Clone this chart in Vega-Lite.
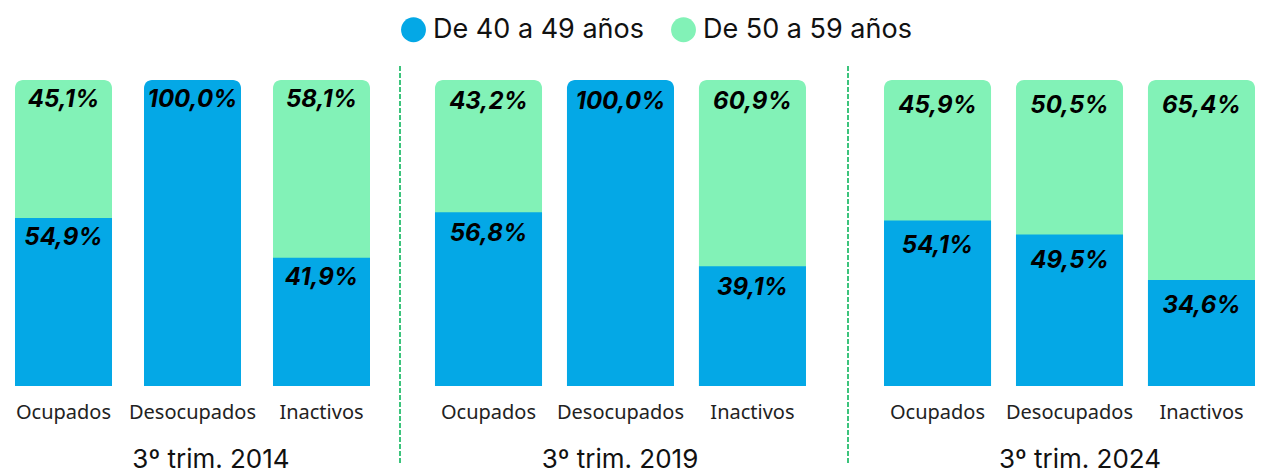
{
  "$schema": "https://vega.github.io/schema/vega-lite/v6.json",
  "background": "white",
  "padding": {"left": 0, "top": 16, "right": 0, "bottom": 0},
  "autosize": {"type": "pad"},
  "config": {
    "view": {"stroke": null},
    "locale": {"number": {"decimal": ",", "thousands": ".", "grouping": [3], "currency": ["", " €"]}},
    "axis": {"labelFont": "Noto Sans", "labelFontSize": 20, "labelColor": "#222222", "labelLimit": 300},
    "title": {"font": "Inter", "fontSize": 26, "fontWeight": "normal", "color": "#111111"}
  },
  "bounds": "flush",
  "spacing": 10,
  "data": {"values": [
    {"periodo": "2014", "cat": "Ocupados", "grupo": "De 40 a 49 años", "valor": 0.549},
    {"periodo": "2014", "cat": "Ocupados", "grupo": "De 50 a 59 años", "valor": 0.451},
    {"periodo": "2014", "cat": "Desocupados", "grupo": "De 40 a 49 años", "valor": 1.0},
    {"periodo": "2014", "cat": "Inactivos", "grupo": "De 40 a 49 años", "valor": 0.419},
    {"periodo": "2014", "cat": "Inactivos", "grupo": "De 50 a 59 años", "valor": 0.581},
    {"periodo": "2019", "cat": "Ocupados", "grupo": "De 40 a 49 años", "valor": 0.568},
    {"periodo": "2019", "cat": "Ocupados", "grupo": "De 50 a 59 años", "valor": 0.432},
    {"periodo": "2019", "cat": "Desocupados", "grupo": "De 40 a 49 años", "valor": 1.0},
    {"periodo": "2019", "cat": "Inactivos", "grupo": "De 40 a 49 años", "valor": 0.391},
    {"periodo": "2019", "cat": "Inactivos", "grupo": "De 50 a 59 años", "valor": 0.609},
    {"periodo": "2024", "cat": "Ocupados", "grupo": "De 40 a 49 años", "valor": 0.541},
    {"periodo": "2024", "cat": "Ocupados", "grupo": "De 50 a 59 años", "valor": 0.459},
    {"periodo": "2024", "cat": "Desocupados", "grupo": "De 40 a 49 años", "valor": 0.495},
    {"periodo": "2024", "cat": "Desocupados", "grupo": "De 50 a 59 años", "valor": 0.505},
    {"periodo": "2024", "cat": "Inactivos", "grupo": "De 40 a 49 años", "valor": 0.346},
    {"periodo": "2024", "cat": "Inactivos", "grupo": "De 50 a 59 años", "valor": 0.654}
  ]},
  "hconcat": [
    {
      "width": 380, "height": 306,
      "title": {"text": "3º trim. 2014", "orient": "bottom", "anchor": "middle", "dx": 21, "offset": 25},
      "transform": [
        {"filter": "datum.periodo == '2014'"},
        {"stack": "valor", "groupby": ["cat"], "sort": [{"field": "grupo", "order": "ascending"}], "as": ["v0", "v1"]}
      ],
      "encoding": {
        "x": {"field": "cat", "type": "nominal", "sort": ["Ocupados", "Desocupados", "Inactivos"],
              "scale": {"paddingInner": 0.248, "paddingOuter": 0.0969, "align": 0.6},
              "axis": {"title": null, "labelAngle": 0, "ticks": false, "tickSize": 0, "domain": false, "labelPadding": 16}}
      },
      "layer": [
        {"transform": [{"filter": "datum.v1 > 0.999"}],
         "mark": {"type": "bar", "cornerRadiusTopLeft": 8, "cornerRadiusTopRight": 8},
         "encoding": {
           "y": {"field": "v1", "type": "quantitative", "stack": null, "scale": {"domain": [0, 1]}, "axis": null},
           "color": {"field": "grupo", "type": "nominal",
                     "scale": {"domain": ["De 40 a 49 años", "De 50 a 59 años"], "range": ["#04A8E6", "#82F2B7"]},
                     "legend": {"orient": "none", "legendX": 400, "legendY": -64, "direction": "horizontal", "title": null,
                                "symbolType": "circle", "symbolSize": 620, "symbolStrokeWidth": 0, "symbolOpacity": 1,
                                "labelFont": "Inter", "labelFontSize": 27, "labelLimit": 400, "labelColor": "#111111", "columnPadding": 26, "labelOffset": 6}}
         }},
        {"transform": [{"filter": "datum.v1 <= 0.999"}],
         "mark": {"type": "bar"},
         "encoding": {
           "y": {"field": "v0", "type": "quantitative", "stack": null, "scale": {"domain": [0, 1]}, "axis": null},
           "y2": {"field": "v1"},
           "color": {"field": "grupo", "type": "nominal"}
         }},
        {"mark": {"type": "text", "baseline": "middle", "dy": 20, "font": "Inter", "fontSize": 24, "fontWeight": "bold", "fontStyle": "italic", "color": "#000000"},
         "encoding": {
           "y": {"field": "v1", "type": "quantitative", "stack": null, "scale": {"domain": [0, 1]}, "axis": null},
           "text": {"field": "valor", "type": "quantitative", "format": ".1%"}
         }}
      ]
    },
    {
      "width": 20, "height": 306,
      "mark": {"type": "rule", "color": "#3CC47C", "strokeWidth": 2, "strokeDash": [4, 3]},
      "encoding": {
        "x": {"datum": 0, "type": "quantitative", "scale": {"domain": [-1, 1]}, "axis": null},
        "y": {"datum": -0.25, "type": "quantitative", "scale": {"domain": [0, 1]}, "axis": null},
        "y2": {"datum": 1.05}
      }
    },
    {
      "width": 408, "height": 306,
      "title": {"text": "3º trim. 2019", "orient": "bottom", "anchor": "middle", "dx": -4, "offset": 25},
      "transform": [
        {"filter": "datum.periodo == '2019'"},
        {"stack": "valor", "groupby": ["cat"], "sort": [{"field": "grupo", "order": "ascending"}], "as": ["v0", "v1"]}
      ],
      "encoding": {
        "x": {"field": "cat", "type": "nominal", "sort": ["Ocupados", "Desocupados", "Inactivos"],
              "scale": {"paddingInner": 0.189, "paddingOuter": 0.1402, "align": 0.405},
              "axis": {"title": null, "labelAngle": 0, "ticks": false, "tickSize": 0, "domain": false, "labelPadding": 16}}
      },
      "layer": [
        {"transform": [{"filter": "datum.v1 > 0.999"}],
         "mark": {"type": "bar", "cornerRadiusTopLeft": 8, "cornerRadiusTopRight": 8},
         "encoding": {
           "y": {"field": "v1", "type": "quantitative", "stack": null, "scale": {"domain": [0, 1]}, "axis": null},
           "color": {"field": "grupo", "type": "nominal"}
         }},
        {"transform": [{"filter": "datum.v1 <= 0.999"}],
         "mark": {"type": "bar"},
         "encoding": {
           "y": {"field": "v0", "type": "quantitative", "stack": null, "scale": {"domain": [0, 1]}, "axis": null},
           "y2": {"field": "v1"},
           "color": {"field": "grupo", "type": "nominal"}
         }},
        {"mark": {"type": "text", "baseline": "middle", "dy": 22, "font": "Inter", "fontSize": 24, "fontWeight": "bold", "fontStyle": "italic", "color": "#000000"},
         "encoding": {
           "y": {"field": "v1", "type": "quantitative", "stack": null, "scale": {"domain": [0, 1]}, "axis": null},
           "text": {"field": "valor", "type": "quantitative", "format": ".1%"}
         }}
      ]
    },
    {
      "width": 20, "height": 306,
      "mark": {"type": "rule", "color": "#3CC47C", "strokeWidth": 2, "strokeDash": [4, 3]},
      "encoding": {
        "x": {"datum": 0, "type": "quantitative", "scale": {"domain": [-1, 1]}, "axis": null},
        "y": {"datum": -0.25, "type": "quantitative", "scale": {"domain": [0, 1]}, "axis": null},
        "y2": {"datum": 1.05}
      }
    },
    {
      "width": 396, "height": 306,
      "title": {"text": "3º trim. 2024", "orient": "bottom", "anchor": "middle", "dx": 14, "offset": 25},
      "transform": [
        {"filter": "datum.periodo == '2024'"},
        {"stack": "valor", "groupby": ["cat"], "sort": [{"field": "grupo", "order": "ascending"}], "as": ["v0", "v1"]}
      ],
      "encoding": {
        "x": {"field": "cat", "type": "nominal", "sort": ["Ocupados", "Desocupados", "Inactivos"],
              "scale": {"paddingInner": 0.189, "paddingOuter": 0.0947, "align": 0.64},
              "axis": {"title": null, "labelAngle": 0, "ticks": false, "tickSize": 0, "domain": false, "labelPadding": 16}}
      },
      "layer": [
        {"transform": [{"filter": "datum.v1 > 0.999"}],
         "mark": {"type": "bar", "cornerRadiusTopLeft": 8, "cornerRadiusTopRight": 8},
         "encoding": {
           "y": {"field": "v1", "type": "quantitative", "stack": null, "scale": {"domain": [0, 1]}, "axis": null},
           "color": {"field": "grupo", "type": "nominal"}
         }},
        {"transform": [{"filter": "datum.v1 <= 0.999"}],
         "mark": {"type": "bar"},
         "encoding": {
           "y": {"field": "v0", "type": "quantitative", "stack": null, "scale": {"domain": [0, 1]}, "axis": null},
           "y2": {"field": "v1"},
           "color": {"field": "grupo", "type": "nominal"}
         }},
        {"mark": {"type": "text", "baseline": "middle", "dy": 26, "font": "Inter", "fontSize": 24, "fontWeight": "bold", "fontStyle": "italic", "color": "#000000"},
         "encoding": {
           "y": {"field": "v1", "type": "quantitative", "stack": null, "scale": {"domain": [0, 1]}, "axis": null},
           "text": {"field": "valor", "type": "quantitative", "format": ".1%"}
         }}
      ]
    }
  ]
}
